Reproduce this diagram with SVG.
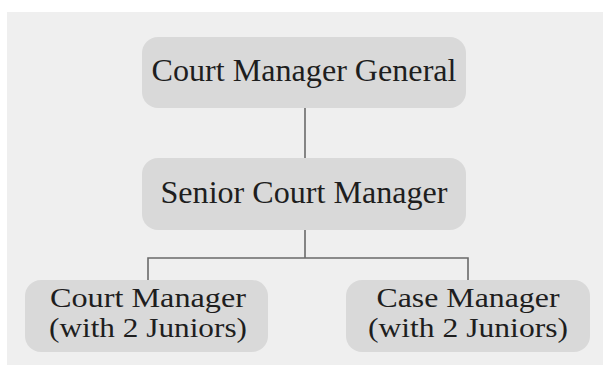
<svg xmlns="http://www.w3.org/2000/svg" width="603" height="367" viewBox="0 0 603 367">
<style>
.box{fill:#d9d9d9}
.t{font-family:"Liberation Serif","DejaVu Serif",serif;font-size:32px;fill:#1e1e1e;text-anchor:middle}
.s{font-size:28px}
.c{stroke:#6a6a6a;stroke-width:1.6;fill:none}
</style>
<rect width="603" height="367" fill="#ffffff"/>
<rect x="7" y="12" width="596" height="353" fill="#efefef"/>
<g id="connectors">
<line class="c" x1="305" y1="108" x2="305" y2="158"/>
<path class="c" d="M305 230V258M148 280V258H468V280"/>
</g>
<g id="cmg">
<rect class="box" x="142" y="37" width="324" height="71" rx="16"/>
<text class="t" x="304" y="81" textLength="305" lengthAdjust="spacingAndGlyphs">Court Manager General</text>
</g>
<g id="scm">
<rect class="box" x="142" y="158" width="324" height="72" rx="16"/>
<text class="t" x="304" y="203" textLength="287" lengthAdjust="spacingAndGlyphs">Senior Court Manager</text>
</g>
<g id="cm">
<rect class="box" x="25" y="280" width="243" height="72" rx="16"/>
<text class="t s" x="148" y="307" textLength="196" lengthAdjust="spacingAndGlyphs">Court Manager</text>
<text class="t s" x="148" y="337" textLength="198" lengthAdjust="spacingAndGlyphs">(with 2 Juniors)</text>
</g>
<g id="casem">
<rect class="box" x="346" y="280" width="244" height="72" rx="16"/>
<text class="t s" x="468" y="307" textLength="183" lengthAdjust="spacingAndGlyphs">Case Manager</text>
<text class="t s" x="468" y="337" textLength="200" lengthAdjust="spacingAndGlyphs">(with 2 Juniors)</text>
</g>
</svg>
